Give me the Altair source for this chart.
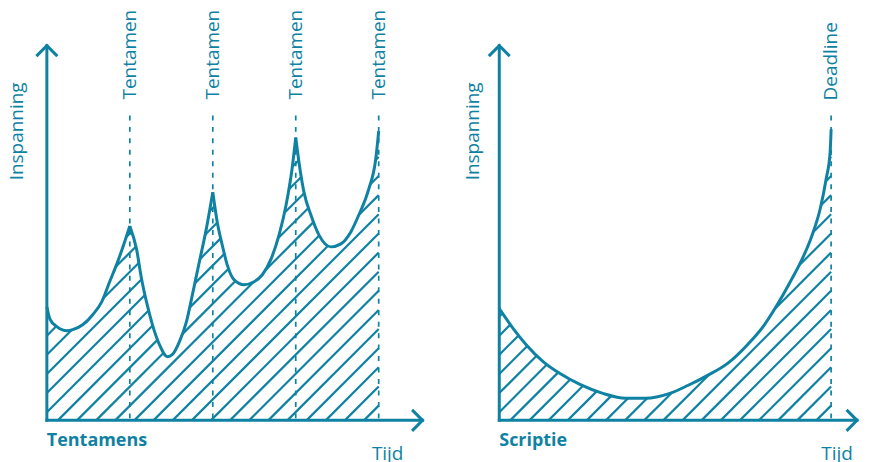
import altair as alt
import pandas as pd
import numpy as np

# ---------------- data ----------------
# Left panel "Tentamens": time in exam periods, effort 0-100
exam_times = [1, 2, 3, 4]
exam_label = "Tentamen"

seg1_t = [0.0, 0.036, 0.120, 0.240, 0.312, 0.432, 0.553, 0.661, 0.757, 0.853, 0.937, 1.0]
seg1_e = [30.3, 27.1, 25.0, 23.9, 24.2, 25.5, 28.2, 31.6, 37.0, 42.3, 47.6, 51.9]
seg2_t = [1.0, 1.081, 1.141, 1.201, 1.273, 1.357, 1.453, 1.514, 1.598, 1.682, 1.754, 1.838, 1.922, 2.0]
seg2_e = [51.9, 45.7, 37.8, 31.6, 25.5, 20.2, 17.0, 17.6, 21.0, 26.3, 33.5, 42.3, 51.1, 60.9]
seg3_t = [2.0, 2.054, 2.114, 2.174, 2.258, 2.378, 2.498, 2.595, 2.703, 2.799, 2.883, 2.955, 3.0]
seg3_e = [60.9, 52.9, 46.8, 41.5, 37.5, 36.2, 37.0, 38.8, 43.1, 49.5, 57.4, 67.0, 75.5]
seg4_t = [3.0, 3.039, 3.099, 3.183, 3.279, 3.423, 3.544, 3.664, 3.760, 3.880, 3.964, 4.0]
seg4_e = [75.5, 68.9, 60.9, 54.8, 49.5, 46.3, 47.1, 50.3, 54.8, 61.7, 69.7, 77.2]

# Right panel "Scriptie": time 0-10 (deadline at 10), effort 0-100
deadline_time = [10]
deadline_label = "Deadline"
thesis_t = [0.0, 0.42, 0.81, 1.32, 1.83, 2.43, 3.12, 3.81, 4.41, 5.14, 5.68, 6.28, 6.88,
            7.48, 7.99, 8.38, 8.77, 9.13, 9.43, 9.67, 9.85, 9.97, 10.0]
thesis_e = [29.8, 24.5, 20.2, 15.7, 12.5, 9.6, 7.2, 5.9, 5.9, 7.2, 9.3, 12.0, 15.2,
            20.2, 25.5, 30.9, 37.0, 43.1, 49.5, 56.4, 64.4, 71.5, 77.7]

titles = ["Tentamens", "Scriptie"]
y_title = "Inspanning"
x_title = "Tijd"

# ---------------- styling / layout ----------------
COLOR = "#0f82a3"
FONT = "Open Sans"
H = 446
ORIGIN_Y = 411.0
K_Y = 3.76
YDOM = [(ORIGIN_Y - H) / K_Y, ORIGIN_Y / K_Y]
E_TOP = (ORIGIN_Y - 105) / K_Y
HATCH_GAP = 19.2
HATCH_PHASE = 11.0


def tangents(xs, ys):
    n = len(xs)
    if n == 2:
        s = (ys[1] - ys[0]) / (xs[1] - xs[0])
        return [s, s]
    sg = lambda v: -1.0 if v < 0 else 1.0
    t = [0.0] * n
    for i in range(1, n - 1):
        h0 = xs[i] - xs[i - 1]
        h1 = xs[i + 1] - xs[i]
        s0 = (ys[i] - ys[i - 1]) / h0
        s1 = (ys[i + 1] - ys[i]) / h1
        p = (s0 * h1 + s1 * h0) / (h0 + h1)
        t[i] = (sg(s0) + sg(s1)) * min(abs(s0), abs(s1), 0.5 * abs(p))
    t[0] = (3 * (ys[1] - ys[0]) / (xs[1] - xs[0]) - t[1]) / 2
    t[-1] = (3 * (ys[-1] - ys[-2]) / (xs[-1] - xs[-2]) - t[-2]) / 2
    return t


def make_curve_fn(segments):
    pre = [(list(ts), list(es), tangents(ts, es)) for ts, es in segments]

    def f(x):
        for ts, es, tg in pre:
            if ts[0] <= x <= ts[-1]:
                i = max(0, min(len(ts) - 2, int(np.searchsorted(ts, x, side="right")) - 1))
                h = ts[i + 1] - ts[i]
                s = (x - ts[i]) / h
                dx = h / 3
                p0, p3 = es[i], es[i + 1]
                p1 = p0 + dx * tg[i]
                p2 = p3 - dx * tg[i + 1]
                return ((1 - s) ** 3) * p0 + 3 * ((1 - s) ** 2) * s * p1 + 3 * (1 - s) * s * s * p2 + s ** 3 * p3
        return -1.0
    return f


def hatch_segments(segments, kx):
    f = make_curve_fn(segments)
    t_end = segments[-1][0][-1]
    u_end = t_end * kx
    rows = []
    kmin = int(np.floor((-110 * K_Y - HATCH_PHASE) / HATCH_GAP))
    kmax = int(np.ceil((u_end - HATCH_PHASE) / HATCH_GAP))
    inside_fn = lambda u, b: (u - b) <= f(u / kx) * K_Y
    for k in range(kmin, kmax + 1):
        b = HATCH_PHASE + k * HATCH_GAP
        u0 = max(0.0, b)
        if u0 >= u_end:
            continue
        us = np.append(np.arange(u0, u_end, 0.25), u_end)
        inside = [inside_fn(u, b) for u in us]
        start = None
        for j, ok in enumerate(inside):
            if ok and start is None:
                start = us[j]
                if j > 0:
                    lo, hi = us[j - 1], us[j]
                    for _ in range(30):
                        m = (lo + hi) / 2
                        if inside_fn(m, b):
                            hi = m
                        else:
                            lo = m
                    start = hi
            if (not ok or j == len(us) - 1) and start is not None:
                if ok:
                    end = us[j]
                else:
                    lo, hi = us[j - 1], us[j]
                    for _ in range(30):
                        m = (lo + hi) / 2
                        if inside_fn(m, b):
                            lo = m
                        else:
                            hi = m
                    end = lo
                if end - start > 0.3:
                    rows.append({"t1": start / kx, "e1": (start - b) / K_Y,
                                 "t2": end / kx, "e2": (end - b) / K_Y})
                start = None
    return pd.DataFrame(rows)


CHEVRON = "M-1,-1L0,0L-1,1"


def build_panel(segments, events, ev_label, kx, origin_x, W, tip_px, title,
                inspan_px, tijd_px, label_px):
    xdom = [-origin_x / kx, (W - origin_x) / kx]
    xs = alt.Scale(domain=xdom, nice=False, zero=False)
    ys = alt.Scale(domain=YDOM, nice=False, zero=False)
    x_tip = (tip_px - origin_x) / kx

    curve_df = pd.concat([pd.DataFrame({"t": ts, "e": es, "seg": i})
                          for i, (ts, es) in enumerate(segments)])
    hatch_df = hatch_segments(segments, kx)
    ev_df = pd.DataFrame({"t": events, "label": ev_label})
    axes_df = pd.DataFrame({"a": [0, 0], "b": [0, 0], "c": [0, x_tip], "d": [100, 0]})
    arrow_df = pd.DataFrame({"x": [0, x_tip], "y": [100, 0], "ang": [270, 0]})
    one = pd.DataFrame({"k": [0]})

    hatch = alt.Chart(hatch_df).mark_rule(color=COLOR, strokeWidth=2.2).encode(
        x=alt.X("t1:Q", scale=xs, axis=None), y=alt.Y("e1:Q", scale=ys, axis=None),
        x2="t2:Q", y2="e2:Q")
    curve = alt.Chart(curve_df).mark_line(color=COLOR, strokeWidth=3, interpolate="monotone").encode(
        x=alt.X("t:Q", scale=xs, axis=None), y=alt.Y("e:Q", scale=ys, axis=None), detail="seg:N")
    dashed = alt.Chart(ev_df).mark_rule(color=COLOR, strokeWidth=1.7, strokeDash=[5, 6.5]).encode(
        x=alt.X("t:Q", scale=xs, axis=None), y=alt.Y(datum=E_TOP, scale=ys, axis=None),
        y2=alt.Y2(datum=0))
    axes = alt.Chart(axes_df).mark_rule(color=COLOR, strokeWidth=3, strokeCap="square").encode(
        x=alt.X("a:Q", scale=xs, axis=None), y=alt.Y("b:Q", scale=ys, axis=None),
        x2="c:Q", y2="d:Q")
    arrows = alt.Chart(arrow_df).mark_point(shape=CHEVRON, filled=False, size=441, strokeWidth=3,
                                            color=COLOR, opacity=1).encode(
        x=alt.X("x:Q", scale=xs, axis=None), y=alt.Y("y:Q", scale=ys, axis=None),
        angle=alt.Angle("ang:Q", scale=None))
    ev_text = alt.Chart(ev_df).mark_text(angle=270, align="left", baseline="middle", font=FONT,
                                         fontSize=19, color=COLOR).encode(
        x=alt.X("t:Q", scale=xs, axis=None), y=alt.value(label_px), text="label:N")
    ytitle = alt.Chart(one).mark_text(angle=270, align="center", baseline="middle", font=FONT,
                                      fontSize=19, color=COLOR, text=y_title).encode(
        x=alt.value(inspan_px), y=alt.value(121))
    ttl = alt.Chart(one).mark_text(align="left", baseline="middle", font=FONT, fontSize=18,
                                   fontWeight="bold", color=COLOR, text=title).encode(
        x=alt.X(datum=0, scale=xs, axis=None), y=alt.value(432))
    tijd = alt.Chart(one).mark_text(align="center", baseline="alphabetic", font=FONT, fontSize=19,
                                    color=COLOR, text=x_title).encode(
        x=alt.value(tijd_px), y=alt.value(451))

    return alt.layer(hatch, curve, dashed, axes, arrows, ev_text, ytitle, ttl, tijd).properties(
        width=W, height=H)


left = build_panel([(seg1_t, seg1_e), (seg2_t, seg2_e), (seg3_t, seg3_e), (seg4_t, seg4_e)],
                   exam_times, exam_label, 83.25, 39.0, 425, 416, titles[0], 9.5, 381, 89)
right = build_panel([(thesis_t, thesis_e)], deadline_time, deadline_label,
                    33.3, 63.0, 425, 422, titles[1], 37, 402, 90)

chart = (alt.hconcat(left, right, spacing=5)
         .properties(padding=0)
         .configure(background="white")
         .configure_view(strokeWidth=0, stroke="transparent"))

chart.save("out.html", embed_options={"renderer": "svg", "actions": False})
